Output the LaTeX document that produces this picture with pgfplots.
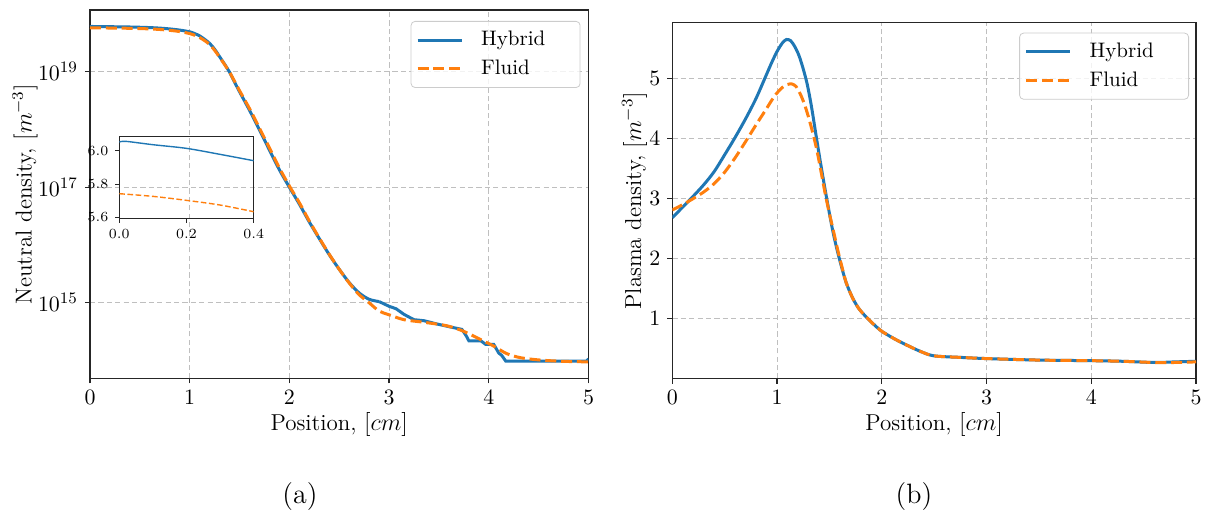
\documentclass[border=0pt]{standalone}
\usepackage{pgfplots}
\pgfplotsset{compat=1.18}
\definecolor{c0}{HTML}{1F77B4}
\definecolor{c1}{HTML}{FF7F0E}
\newcommand{\lent}[1]{\makebox[52pt][l]{\hspace{7pt}#1}}
\pgfplotsset{
  mystyle/.style={
    scale only axis,
    axis line style={black!85, line width=0.6pt},
    tick style={black!85, line width=0.6pt},
    tick align=outside,
    major tick length=2.5pt,
    tick pos=left,
    grid=major,
    major grid style={gray!50, line width=0.45pt, dash pattern=on 2.6pt off 1.6pt},
    tick label style={font=\fontsize{11}{13}\selectfont},
    label style={font=\fontsize{11.5}{14}\selectfont},
    legend cell align=left,
    legend image code/.code={\draw[##1] (0pt,0pt) -- (22pt,0pt);},
    legend style={at={(1,1)}, anchor=north east, draw=black!20, rounded corners=2pt,
      fill=white, fill opacity=0.8, text opacity=1,
      font=\fontsize{10.5}{12}\selectfont, inner xsep=2.5pt, inner ysep=3pt, row sep=1.5pt},
  },
  hyb/.style={c0, line width=1.5pt},
  flu/.style={c1, line width=1.5pt, dash pattern=on 5.5pt off 2.4pt},
}
\begin{document}
\begin{tikzpicture}
\path[use as bounding box] (0,0) rectangle (606pt,-258.5pt);
% ---------------- (a) ----------------
\begin{axis}[mystyle, at={(45pt,-189.25pt)}, anchor=south west,
  width=249.25pt, height=184.25pt,
  xmin=0, xmax=5, xtick={0,1,2,3,4,5},
  ymode=log, ymin=4.9e13, ymax=1.17e20, ytick={1e15,1e17,1e19}, minor ytick={},
  xlabel={Position, $[cm]$}, ylabel={Neutral density, $[m^{-3}]$},
  xlabel style={at={(axis description cs:0.5,-0.126)}, anchor=center},
  ylabel style={at={(axis description cs:-0.130,0.5)}, anchor=center},
  legend style={xshift=-4pt, yshift=-5.5pt}]
\addplot[hyb, smooth, tension=0.5] coordinates {
(0.00,6.05e19) (0.02,6.06e19) (0.1,6.04e19) (0.2,6.01e19) (0.3,5.98e19) (0.4,5.94e19)
(0.5,5.88e19) (0.6,5.80e19) (0.7,5.68e19) (0.8,5.50e19) (0.9,5.25e19) (1.0,4.90e19)
(1.05,4.57e19) (1.1,4.17e19) (1.15,3.63e19) (1.2,3.09e19) (1.25,2.45e19) (1.3,1.82e19)
(1.35,1.35e19) (1.4,9.8e18) (1.45,6.6e18) (1.5,4.5e18) (1.6,2.15e18)
(1.7,9.8e17) (1.8,4.4e17) (1.9,2.0e17) (2.0,1.0e17) (2.1,5.1e16) (2.2,2.5e16)
(2.3,1.29e16) (2.4,6.8e15) (2.5,3.8e15) (2.6,2.24e15) (2.7,1.48e15) (2.8,1.15e15)
(2.9,1.05e15)};
\addlegendentry{\lent{Hybrid}}
\addplot[hyb, forget plot] coordinates {
(2.9,1.05e15) (3.0,8.7e14) (3.07,7.9e14) (3.15,6.3e14) (3.25,5.1e14) (3.35,4.9e14)
(3.48,4.3e14) (3.62,3.8e14) (3.73,3.47e14) (3.77,2.75e14) (3.80,2.2e14) (3.92,2.2e14)
(3.97,1.9e14) (4.05,1.9e14) (4.10,1.35e14) (4.13,1.23e14) (4.17,9.8e13) (4.98,9.8e13)
(5.0,1.07e14)};
\addplot[flu, smooth, tension=0.5] coordinates {
(0.0,5.74e19) (0.1,5.726e19) (0.2,5.70e19) (0.3,5.674e19) (0.4,5.634e19) (0.5,5.58e19)
(0.6,5.50e19) (0.7,5.38e19) (0.8,5.20e19) (0.9,4.95e19) (1.0,4.57e19) (1.05,4.27e19)
(1.1,3.90e19) (1.15,3.45e19) (1.2,2.95e19) (1.25,2.35e19) (1.3,1.78e19) (1.35,1.33e19)
(1.4,9.8e18) (1.45,6.8e18) (1.5,4.7e18) (1.6,2.3e18) (1.7,1.05e18)
(1.8,4.8e17) (1.9,2.15e17) (2.0,1.05e17) (2.1,5.4e16) (2.2,2.6e16) (2.3,1.32e16)
(2.4,6.9e15) (2.5,3.8e15) (2.6,2.2e15) (2.7,1.38e15) (2.8,1.0e15) (2.9,7.2e14)
(3.0,6.2e14) (3.15,5.1e14) (3.35,4.6e14) (3.58,4.0e14) (3.75,3.2e14) (3.92,2.3e14)
(4.05,1.78e14) (4.18,1.32e14) (4.32,1.12e14) (4.52,1.02e14) (4.75,9.7e13) (5.0,9.5e13)};
\addlegendentry{\lent{Fluid}}
\end{axis}
% ---------------- inset ----------------
\begin{axis}[scale only axis, at={(59.65pt,-109.35pt)}, anchor=south west,
  width=67.2pt, height=41pt,
  axis line style={black!85, line width=0.6pt},
  tick style={black!85, line width=0.5pt}, tick align=outside, major tick length=2pt,
  tick pos=left,
  xmin=0, xmax=0.4, ymin=5.592, ymax=6.084,
  xtick={0,0.2,0.4}, ytick={5.6,5.8,6.0},
  tick label style={font=\fontsize{7.5}{8.5}\selectfont, /pgf/number format/.cd, fixed, fixed zerofill, precision=1},
  clip=true]
\addplot[c0, line width=0.7pt, smooth] coordinates {
(0.0,6.052) (0.02,6.056) (0.1,6.036) (0.2,6.014) (0.3,5.978) (0.4,5.94)};
\addplot[c1, line width=0.7pt, dash pattern=on 2.8pt off 1.3pt, smooth] coordinates {
(0.0,5.742) (0.1,5.726) (0.2,5.702) (0.3,5.674) (0.4,5.634)};
\node[anchor=south west, inner sep=0pt, font=\fontsize{7.5}{8.5}\selectfont] at (rel axis cs:0,1) [yshift=1.5pt] {$\times10^{19}$};
\end{axis}
% ---------------- (b) ----------------
\begin{axis}[mystyle, at={(336.15pt,-189.35pt)}, anchor=south west,
  width=261.85pt, height=178pt,
  xmin=0, xmax=5, xtick={0,1,2,3,4,5},
  ymin=0, ymax=5.93, ytick={1,2,3,4,5},
  xlabel={Position, $[cm]$}, ylabel={Plasma density, $[m^{-3}]$},
  xlabel style={at={(axis description cs:0.5,-0.130)}, anchor=center},
  ylabel style={at={(axis description cs:-0.072,0.5)}, anchor=center},
  legend style={xshift=-3.5pt, yshift=-5pt}]
\addplot[hyb, smooth, tension=0.5] coordinates {
(0,2.68) (0.1,2.86) (0.2,3.04) (0.3,3.23) (0.4,3.45) (0.5,3.73) (0.6,4.02) (0.7,4.33)
(0.8,4.67) (0.9,5.07) (0.95,5.27) (1.0,5.45) (1.05,5.59) (1.09,5.65) (1.13,5.63)
(1.17,5.53) (1.21,5.38) (1.25,5.16) (1.29,4.89) (1.33,4.52) (1.37,4.08) (1.41,3.65)
(1.45,3.24) (1.49,2.85) (1.53,2.48) (1.57,2.17) (1.61,1.90) (1.66,1.60) (1.72,1.35)
(1.78,1.17) (1.85,1.03) (1.92,0.91) (2.0,0.79) (2.125,0.66) (2.25,0.55) (2.375,0.45)
(2.5,0.38) (2.75,0.355) (3.0,0.335) (3.5,0.31) (4.0,0.30) (4.3,0.29) (4.6,0.27)
(4.8,0.28) (5.0,0.29)};
\addlegendentry{\lent{Hybrid}}
\addplot[flu, smooth, tension=0.5] coordinates {
(0,2.81) (0.1,2.90) (0.2,3.0) (0.3,3.11) (0.4,3.25) (0.5,3.44) (0.6,3.68) (0.7,3.95)
(0.8,4.23) (0.9,4.50) (0.95,4.64) (1.0,4.76) (1.05,4.85) (1.1,4.90) (1.14,4.91)
(1.18,4.87) (1.22,4.75) (1.26,4.58) (1.3,4.36) (1.34,4.10) (1.38,3.81) (1.42,3.45)
(1.46,3.08) (1.5,2.75) (1.54,2.45) (1.58,2.14) (1.62,1.86) (1.66,1.60) (1.72,1.35)
(1.78,1.17) (1.85,1.03) (1.92,0.91) (2.0,0.79) (2.125,0.66) (2.25,0.55) (2.375,0.45)
(2.5,0.38) (2.75,0.355) (3.0,0.335) (3.5,0.31) (4.0,0.30) (4.3,0.29) (4.6,0.27)
(4.8,0.27) (5.0,0.28)};
\addlegendentry{\lent{Fluid}}
\node[anchor=south west, inner sep=0pt, font=\fontsize{6.5}{7.5}\selectfont] at (rel axis cs:0,1) [xshift=1pt, yshift=2pt] {$\times10^{18}$};
\end{axis}
\node[font=\fontsize{14}{16}\selectfont] at (150pt,-248.5pt) {(a)};
\node[font=\fontsize{14}{16}\selectfont] at (457pt,-248.5pt) {(b)};
\end{tikzpicture}
\end{document}
